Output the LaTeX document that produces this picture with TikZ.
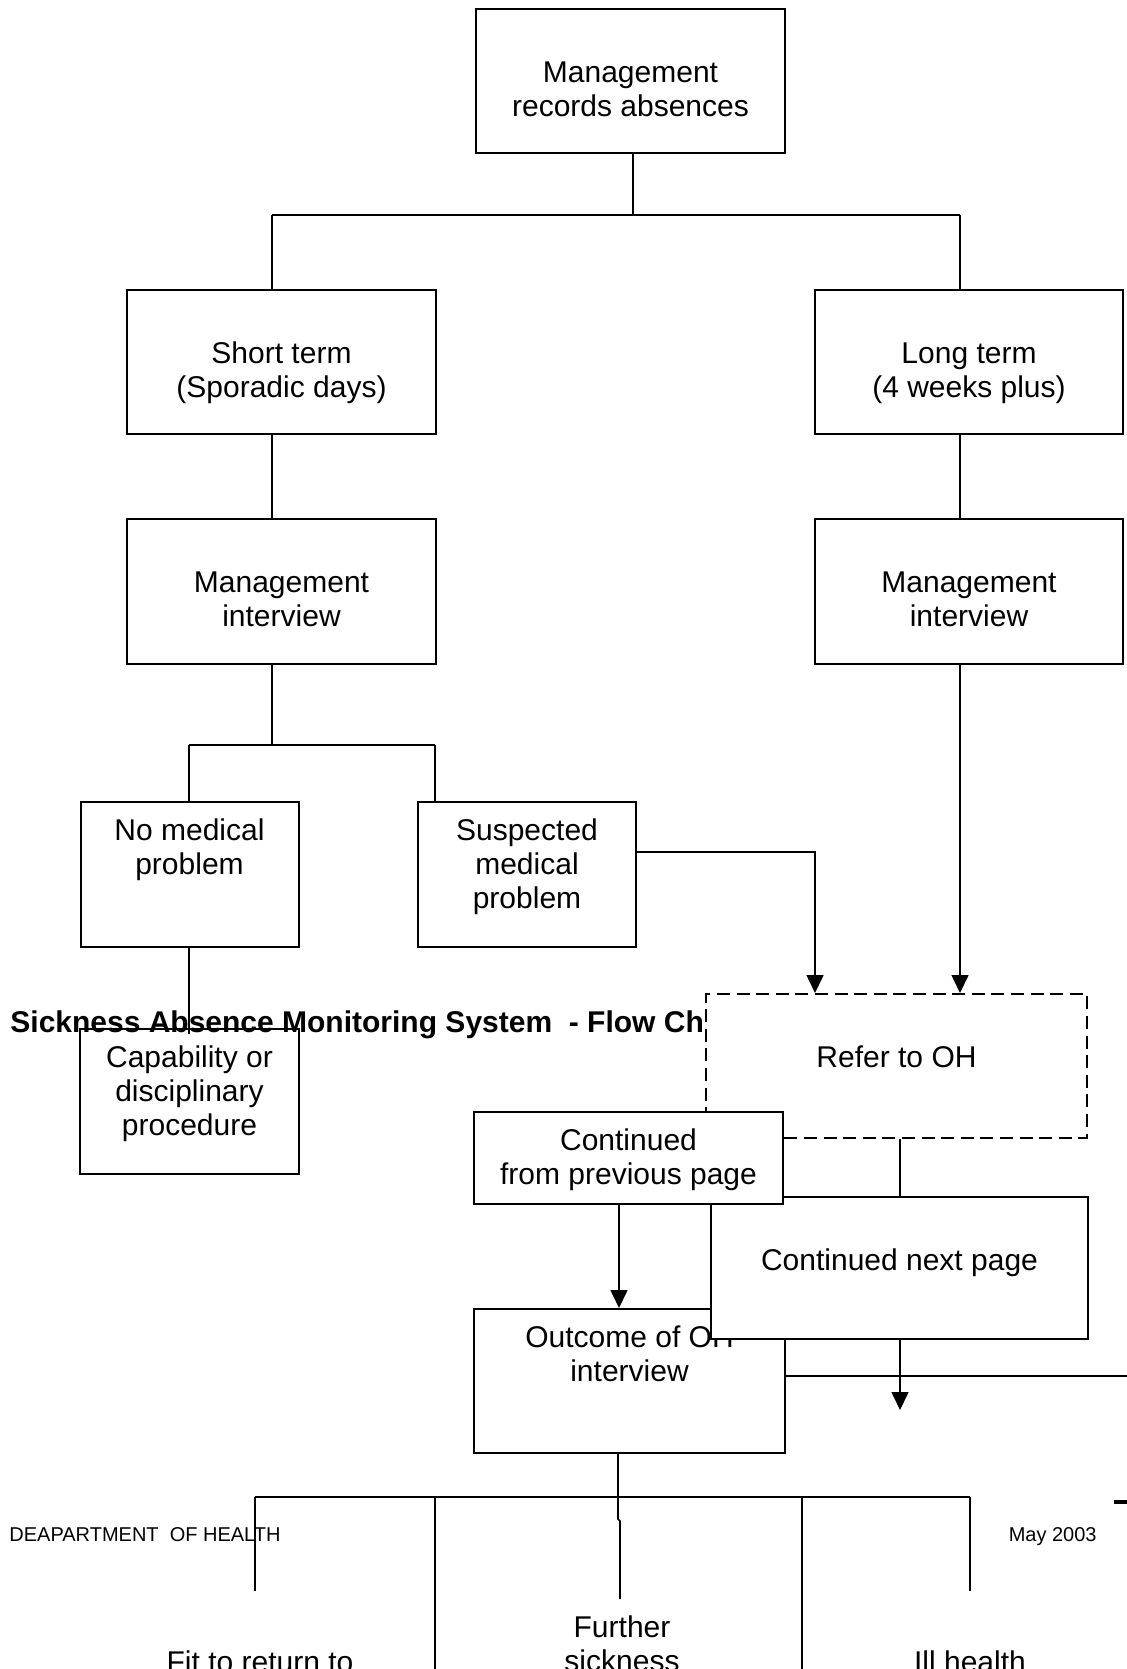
\documentclass[tikz,border=0pt]{standalone}
\usepackage{fontspec}
\setmainfont{Liberation Sans}
\usetikzlibrary{arrows.meta}
\newcommand{\myTopStrut}{\rule{0pt}{11.5pt}}
\begin{document}
\begin{tikzpicture}[x=0.5pt,y=-0.5pt,
  box/.style={draw, line width=1pt, fill=white, inner sep=0pt, rectangle},
  dbox/.style={box, dash pattern=on 6.5pt off 3.3pt},
  txt/.style={font=\fontsize{15pt}{17pt}\selectfont, align=center, inner sep=0pt, anchor=north},
  small/.style={font=\fontsize{10pt}{12pt}\selectfont, inner sep=0pt},
  ln/.style={line width=0.8pt},
  arr/.style={ln, -{Triangle[length=9pt,width=8.5pt]}},
]
\useasboundingbox (0,0) rectangle (1127,1669);
\clip (0,0) rectangle (1127,1669);

% ---------- upper part ----------
\node[box, minimum width=154.5pt, minimum height=72pt] (top) at (630.5,81) {};
\node[txt] (ttop) at (630.5,59) {\myTopStrut Management\\records absences};
\node[box, minimum width=154.5pt, minimum height=72pt] (short) at (281.5,362) {};
\node[txt] (tshort) at (281.5,340) {\myTopStrut Short term\\(Sporadic days)};
\node[box, minimum width=154pt, minimum height=72pt] (long) at (969,362) {};
\node[txt] (tlong) at (969,340) {\myTopStrut Long term\\(4 weeks plus)};
\node[box, minimum width=154.5pt, minimum height=72.5pt] (mi1) at (281.5,591.5) {};
\node[txt] (tmi1) at (281.5,569) {\myTopStrut Management\\interview};
\node[box, minimum width=154pt, minimum height=72.5pt] (mi2) at (969,591.5) {};
\node[txt] (tmi2) at (969,569) {\myTopStrut Management\\interview};
\node[box, minimum width=109pt, minimum height=72.5pt] (nomed) at (189.5,874.5) {};
\node[txt] (tnomed) at (189.5,817) {\myTopStrut No medical\\problem};
\node[box, minimum width=109pt, minimum height=72.5pt] (susp) at (527,874.5) {};
\node[txt] (tsusp) at (527,817) {\myTopStrut Suspected\\medical\\problem};

\coordinate (j1) at (633,215);
\coordinate (jL) at (272,215);
\coordinate (jR) at (960,215);
\draw[ln] (top.south -| j1) -- (j1);
\draw[ln] (jL) -- (jR);
\draw[ln] (jL) -- (jL |- short.north);
\draw[ln] (jR) -- (jR |- long.north);
\draw[ln] (short.south -| jL) -- (mi1.north -| jL);
\draw[ln] (long.south -| jR) -- (mi2.north -| jR);

\coordinate (k0) at (272,745);
\coordinate (kL) at (189,745);
\coordinate (kR) at (435,745);
\draw[ln] (mi1.south -| k0) -- (k0);
\draw[ln] (kL) -- (kR);
\draw[ln] (kL) -- (kL |- nomed.north);
\draw[ln] (kR) -- (kR |- susp.north);

% ---------- capability box and title ----------
\node[box, minimum width=109.5pt, minimum height=72.5pt] (cap) at (189.5,1101.5) {};
\node[txt] (tcap) at (189.5,1044) {\myTopStrut Capability or\\disciplinary\\procedure};
\coordinate (capin) at (189,1034);
\draw[ln] (kL |- nomed.south) -- (capin);

\node[font=\bfseries\fontsize{15pt}{17pt}\selectfont, inner sep=0pt, anchor=base west] (title) at (10,1032)
  {Sickness Absence Monitoring System\ \ - Flow Ch};

% ---------- refer to OH ----------
\node[dbox, minimum width=190.5pt, minimum height=72pt] (refer) at (896.5,1066) {};
\node[txt] (trefer) at (896.5,1044) {\myTopStrut Refer to OH};
\coordinate (sa) at (815,852);
\draw[arr] (susp.east |- sa) -- (sa) -- (sa |- refer.north);
\draw[arr] (mi2.south -| jR) -- (jR |- refer.north);

% ---------- lower part ----------
\node[box, minimum width=155.5pt, minimum height=72pt] (outc) at (629.5,1381) {};
\node[txt] (toutc) at (629.5,1324) {\myTopStrut Outcome of OH\\interview};
\node[box, minimum width=188.5pt, minimum height=71pt] (cnp) at (899.5,1268) {};
\node[txt] (tcnp) at (899.5,1247) {\myTopStrut Continued next page};
\node[box, minimum width=154.5pt, minimum height=46pt] (cfpp) at (628.5,1158) {};
\node[txt] (tcfpp) at (628.5,1127) {\myTopStrut Continued\\from previous page};

\coordinate (mx) at (900,1000);
\coordinate (fx) at (619,1000);
\draw[ln] (refer.south -| mx) -- (cnp.north -| mx);
\draw[arr] (cfpp.south -| fx) -- (outc.north -| fx);
\coordinate (cnpend) at (900,1410);
\draw[arr] (cnp.south -| mx) -- (cnpend);
\coordinate (hend) at (1130,1376);
\draw[ln] (outc.east |- hend) -- (hend);

\coordinate (b0) at (618,1497);
\coordinate (bj1) at (618,1519);
\coordinate (bj2) at (620,1521);
\coordinate (bend) at (620,1599);
\draw[ln] (outc.south -| b0) -- (b0) -- (bj1) -- (bj2) -- (bend);
\coordinate (bL) at (255,1497);
\coordinate (bR) at (970,1497);
\coordinate (b1) at (435,1497);
\coordinate (b3) at (802,1497);
\draw[ln] (bL) -- (bR);
\coordinate (eL) at (255,1591);
\coordinate (eR) at (970,1591);
\coordinate (e1) at (435,1680);
\coordinate (e3) at (802,1680);
\draw[ln] (bL) -- (eL);
\draw[ln] (bR) -- (eR);
\draw[ln] (b1) -- (e1);
\draw[ln] (b3) -- (e3);
\coordinate (dA) at (1114,1502);
\coordinate (dB) at (1130,1502);
\draw[line width=1.6pt] (dA) -- (dB);

\node[txt] (tfurther) at (622,1614) {\myTopStrut Further\\sickness};
\node[txt] (tfit) at (260,1649) {\myTopStrut Fit to return to};
\node[txt] (till) at (970,1649) {\myTopStrut Ill health};

\node[small, anchor=base west] (foot1) at (9,1541) {DEAPARTMENT\ \ OF HEALTH};
\node[small, anchor=base east] (foot2) at (1097,1541) {May 2003};
\end{tikzpicture}
\end{document}
